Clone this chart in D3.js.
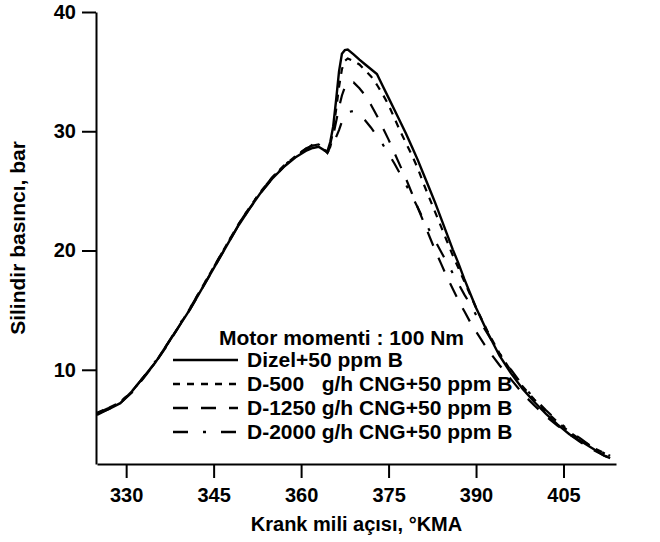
<!DOCTYPE html>
<html>
<head>
<meta charset="utf-8">
<script src="https://cdn.jsdelivr.net/npm/d3@7"></script>
<style>
  body { margin: 0; background: #fff; }
  svg text { font-family: "Liberation Sans", Arial, sans-serif; font-weight: bold; fill: #000; }
</style>
</head>
<body>
<svg width="660" height="542"></svg>
<script>
// crank angle, °KMA
const angles = [325, 327, 329, 331, 333, 335, 337, 339, 341, 343, 345, 347, 349, 351, 353, 355, 357, 359,
  361, 362, 363, 364, 364.5, 365, 365.5, 366, 366.5, 367, 367.5, 368,
  369, 370, 371, 372, 373, 374, 375, 376, 377, 378, 379, 380, 381, 382, 383, 384, 385, 386, 387, 388, 389, 390,
  392, 394, 396, 398, 400, 402, 404, 406, 408, 410, 412, 413];

// cylinder pressure, bar
const dizel = [6.3, 6.7, 7.2, 8.2, 9.4, 10.6, 12.1, 13.6, 15.1, 16.8, 18.5, 20.2, 21.9, 23.4, 24.8, 26.0, 27.0, 27.8,
  28.4, 28.6, 28.7, 28.4, 28.3, 29.1, 30.4, 32.6, 35.0, 36.5, 36.8, 36.85,
  36.45, 36.0, 35.6, 35.2, 34.8, 33.8, 32.8, 31.8, 30.8, 29.8, 28.7, 27.6, 26.4, 25.2, 24.0, 22.7, 21.4, 20.1, 18.9, 17.6, 16.4, 15.2,
  13.1, 11.2, 9.7, 8.4, 7.3, 6.3, 5.4, 4.6, 4.0, 3.4, 2.8, 2.6];
const d500 = [6.4, 6.8, 7.3, 8.2, 9.4, 10.6, 12.1, 13.6, 15.2, 16.9, 18.6, 20.3, 22.0, 23.5, 24.9, 26.1, 27.1, 27.9,
  28.6, 28.8, 28.9, 28.5, 28.2, 28.9, 30.0, 31.8, 33.7, 35.2, 35.9, 36.1,
  35.9, 35.6, 35.1, 34.6, 33.9, 33.1, 32.2, 31.1, 30.0, 29.0, 28.0, 26.9, 25.6, 24.4, 23.2, 22.0, 20.8, 19.6, 18.5, 17.4, 16.3, 15.2,
  13.2, 11.4, 9.9, 8.6, 7.5, 6.5, 5.6, 4.8, 4.1, 3.5, 3.0, 2.8];
const d1250 = [6.2, 6.7, 7.2, 8.1, 9.3, 10.6, 12.0, 13.6, 15.1, 16.8, 18.5, 20.2, 21.9, 23.4, 24.8, 26.0, 27.0, 27.9,
  28.5, 28.9, 28.8, 28.4, 28.2, 28.7, 29.6, 30.8, 32.0, 33.0, 33.7, 34.1,
  34.1, 33.6, 33.0, 32.2, 31.3, 30.3, 29.3, 28.2, 27.1, 26.0, 24.8, 23.6, 22.4, 21.2, 20.0, 18.9, 17.8, 16.8, 15.8, 14.9, 14.0, 13.2,
  11.7, 10.4, 9.2, 8.0, 7.0, 6.1, 5.3, 4.6, 3.9, 3.3, 2.8, 2.6];
const d2000 = [6.35, 6.8, 7.3, 8.2, 9.4, 10.7, 12.1, 13.7, 15.2, 16.9, 18.6, 20.3, 22.0, 23.5, 24.9, 26.1, 27.1, 27.9,
  28.6, 28.8, 28.5, 28.3, 28.2, 28.6, 29.0, 29.5, 30.1, 30.8, 31.3, 31.6,
  31.7, 31.4, 30.9, 30.3, 29.6, 28.9, 28.1, 27.3, 26.4, 25.5, 24.6, 23.6, 22.6, 21.7, 20.8, 19.9, 19.0, 18.1, 17.2, 16.3, 15.5, 14.6,
  13.0, 11.4, 10.0, 8.7, 7.6, 6.6, 5.7, 4.9, 4.2, 3.5, 3.0, 2.8];

const seriesNames = ["Dizel+50 ppm B", "D-500   g/h CNG+50 ppm B", "D-1250 g/h CNG+50 ppm B", "D-2000 g/h CNG+50 ppm B"];
const seriesValues = [dizel, d500, d1250, d2000];
const dashes = [null, "7,7", "15,13", "15,15,3,15"];
const xTicks = [330, 345, 360, 375, 390, 405];
const yTicks = [10, 20, 30, 40];

let svg = d3.select("svg");

let x = d3.scaleLinear().domain([325, 414]).range([97, 616]);
let y = d3.scaleLinear().domain([2.1, 40]).range([464, 12]);

// axes
let xAxis = svg.append("g")
  .attr("transform", "translate(0," + y.range()[0] + ")")
  .call(d3.axisBottom(x).tickValues(xTicks).tickSize(14).tickSizeOuter(0).tickPadding(10));
let yAxis = svg.append("g")
  .attr("transform", "translate(" + (x.range()[0] - 1) + ",0)")
  .call(d3.axisLeft(y).tickValues(yTicks).tickSize(14).tickSizeOuter(0).tickPadding(6));

[xAxis, yAxis].forEach(function (g) {
  g.selectAll("path, line").attr("stroke", "#000").attr("stroke-width", 2);
  g.selectAll("text").style("font-size", "20px").style("font-weight", "bold")
    .style("font-family", "'Liberation Sans', Arial, sans-serif");
});

svg.append("text")
  .attr("x", (x.range()[0] + x.range()[1]) / 2)
  .attr("y", 531)
  .attr("text-anchor", "middle")
  .style("font-size", "20px")
  .text("Krank mili açısı, °KMA");

svg.append("text")
  .attr("transform", "translate(25," + ((y.range()[0] + y.range()[1]) / 2) + ") rotate(-90)")
  .attr("text-anchor", "middle")
  .style("font-size", "21px")
  .text("Silindir basıncı, bar");

// curves
let line = d3.line()
  .x(function (d) { return x(d[0]); })
  .y(function (d) { return y(d[1]); });

seriesValues.forEach(function (vals, i) {
  let pts = angles.map(function (a, j) { return [a, vals[j]]; });
  svg.append("path")
    .datum(pts)
    .attr("fill", "none")
    .attr("stroke", "#000")
    .attr("stroke-width", i === 0 ? 2.4 : 2.2)
    .attr("stroke-dasharray", dashes[i])
    .attr("d", line);
});

// legend
let legend = svg.append("g");
legend.append("text")
  .attr("x", 219)
  .attr("y", 345)
  .style("font-size", "21px")
  .text("Motor momenti : 100 Nm");

seriesNames.forEach(function (name, i) {
  let ry = 360 + i * 24;
  legend.append("line")
    .attr("x1", 173).attr("x2", 238)
    .attr("y1", ry).attr("y2", ry)
    .attr("stroke", "#000")
    .attr("stroke-width", 2.4)
    .attr("stroke-dasharray", dashes[i]);
  legend.append("text")
    .attr("x", 247)
    .attr("y", ry + 7)
    .style("font-size", "21px")
    .attr("xml:space", "preserve")
    .style("white-space", "pre")
    .text(name);
});
</script>
</body>
</html>
